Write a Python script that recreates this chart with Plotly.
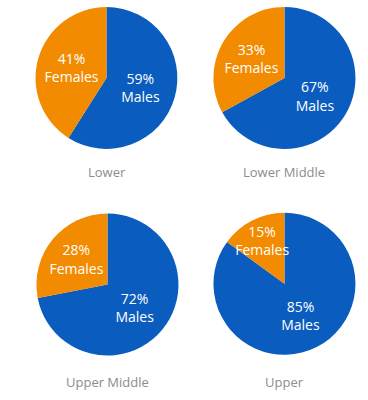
import plotly.graph_objects as go

groups = ["Lower", "Lower Middle", "Upper Middle", "Upper"]
genders = ["Males", "Females"]
males = [59, 67, 72, 85]
females = [41, 33, 28, 15]

colors = ["#0a5cbe", "#f28b00"]
domains = [
    dict(x=[0.0965, 0.482], y=[0.6275, 0.9825]),
    dict(x=[0.579, 0.967], y=[0.6275, 0.9825]),
    dict(x=[0.099, 0.485], y=[0.111, 0.466]),
    dict(x=[0.579, 0.967], y=[0.113, 0.468]),
]
label_pos = [(0.29, 0.57), (0.773, 0.57), (0.292, 0.045), (0.773, 0.045)]

fig = go.Figure()
for i, g in enumerate(groups):
    vals = [males[i], females[i]]
    fig.add_trace(go.Pie(
        labels=genders,
        values=vals,
        text=[f"{v}%<br>{lab}" for v, lab in zip(vals, genders)],
        textinfo="text",
        textposition="inside",
        insidetextorientation="horizontal",
        textfont=dict(family="Open Sans", size=14, color="white"),
        marker=dict(colors=colors, line=dict(width=0)),
        sort=False,
        direction="clockwise",
        rotation=0,
        domain=domains[i],
        showlegend=False,
        hoverinfo="label+percent",
    ))
    fig.add_annotation(
        x=label_pos[i][0], y=label_pos[i][1], xref="paper", yref="paper",
        xanchor="center", yanchor="middle",
        text=g, showarrow=False,
        font=dict(family="Open Sans", size=13, color="#8c8c8c"),
    )

fig.update_layout(
    width=368, height=400,
    margin=dict(l=0, r=0, t=0, b=0),
    paper_bgcolor="white",
    plot_bgcolor="white",
    uniformtext=dict(minsize=14, mode="show"),
)
fig.write_html("out.html", config={"displayModeBar": False},
               post_script="document.body.style.margin='0';")
